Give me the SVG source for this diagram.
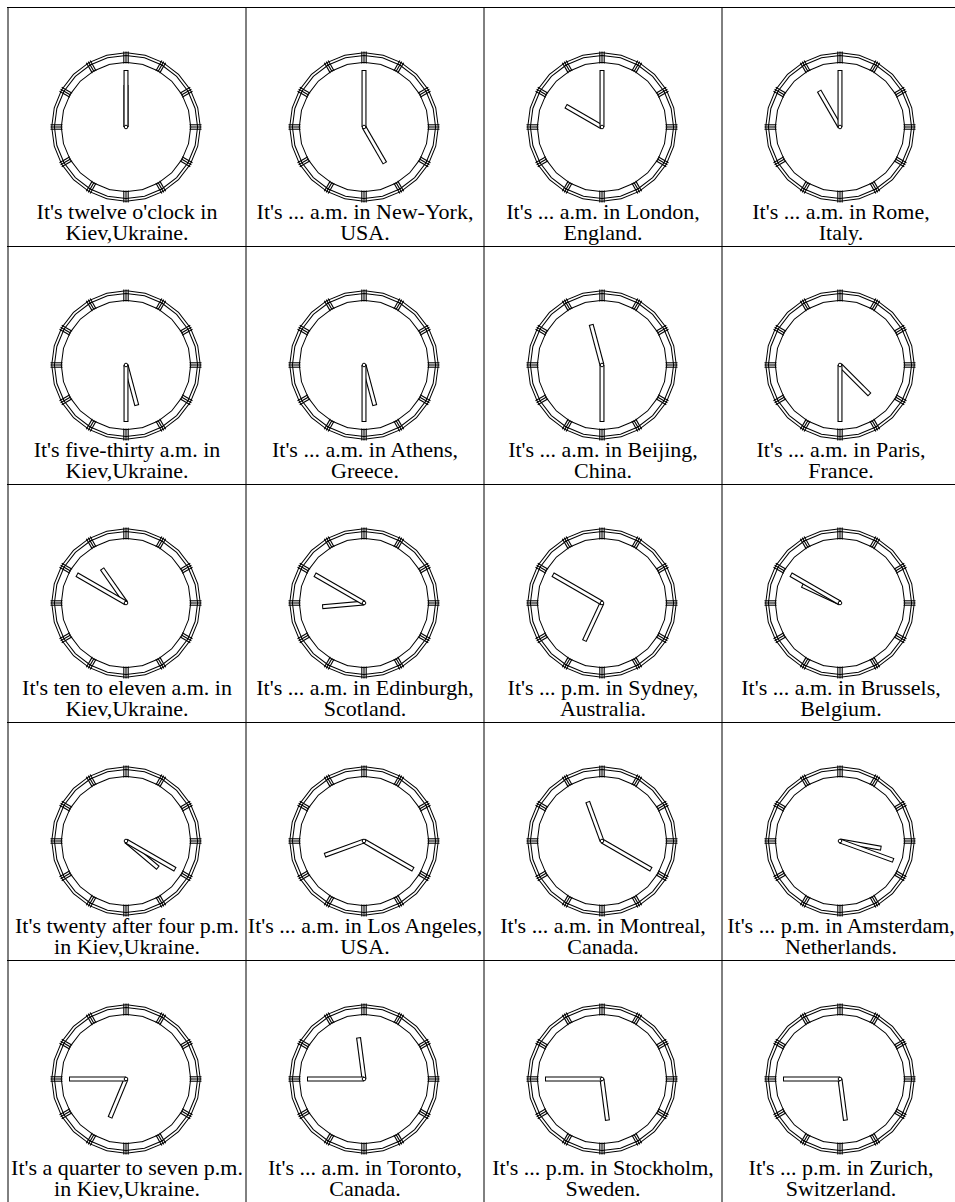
<svg xmlns="http://www.w3.org/2000/svg" xmlns:xlink="http://www.w3.org/1999/xlink" width="955" height="1202" viewBox="0 0 955 1202">
<style>
.grid line{stroke:#000;stroke-width:1}
.bb{fill:none;stroke:#000;stroke-width:10.5;stroke-linejoin:miter}
.bw{fill:none;stroke:#fff;stroke-width:8.5;stroke-linejoin:miter}
.bm{fill:none;stroke:#000;stroke-width:1}
.tk line{stroke:#000;stroke-width:1.1}
.hb{stroke:#000;stroke-width:5}
.hw{stroke:#fff;stroke-width:2.8}
.pv{fill:#fff;stroke:#000;stroke-width:1}
.lb{font-family:'Liberation Serif','Times New Roman',Tinos,serif;font-size:22px;text-anchor:middle;fill:#000}
</style>
<defs>
<polygon id="ring" points="0,-69.5 17.99,-67.13 34.75,-60.19 49.14,-49.14 60.19,-34.75 67.13,-17.99 69.5,0 67.13,17.99 60.19,34.75 49.14,49.14 34.75,60.19 17.99,67.13 0,69.5 -17.99,67.13 -34.75,60.19 -49.14,49.14 -60.19,34.75 -67.13,17.99 -69.5,0 -67.13,-17.99 -60.19,-34.75 -49.14,-49.14 -34.75,-60.19 -17.99,-67.13"/>
<g id="tick" class="tk"><line x1="-2.2" y1="-75.5" x2="-2.2" y2="-63.5"/><line x1="0" y1="-75.5" x2="0" y2="-63.5"/><line x1="2.2" y1="-75.5" x2="2.2" y2="-63.5"/></g>
<g id="face">
<use xlink:href="#ring" class="bb"/>
<use xlink:href="#ring" class="bw"/>
<use xlink:href="#ring" class="bm" transform="scale(1.03)"/>
<use xlink:href="#tick"/>
<use xlink:href="#tick" transform="rotate(30)"/>
<use xlink:href="#tick" transform="rotate(60)"/>
<use xlink:href="#tick" transform="rotate(90)"/>
<use xlink:href="#tick" transform="rotate(120)"/>
<use xlink:href="#tick" transform="rotate(150)"/>
<use xlink:href="#tick" transform="rotate(180)"/>
<use xlink:href="#tick" transform="rotate(210)"/>
<use xlink:href="#tick" transform="rotate(240)"/>
<use xlink:href="#tick" transform="rotate(270)"/>
<use xlink:href="#tick" transform="rotate(300)"/>
<use xlink:href="#tick" transform="rotate(330)"/>
</g>
<g id="hh"><line class="hb" x1="0" y1="0" x2="0" y2="-42"/><line class="hw" x1="0" y1="-1" x2="0" y2="-41"/></g>
<g id="mh"><line class="hb" x1="0" y1="0" x2="0" y2="-57"/><line class="hw" x1="0" y1="-1" x2="0" y2="-56"/></g>
</defs>

<g id="connectors" class="grid">
<line x1="7" y1="7.5" x2="955" y2="7.5"/>
<line x1="7" y1="246.5" x2="955" y2="246.5"/>
<line x1="7" y1="484.5" x2="955" y2="484.5"/>
<line x1="7" y1="722.5" x2="955" y2="722.5"/>
<line x1="7" y1="960.5" x2="955" y2="960.5"/>
<line x1="8" y1="7" x2="8" y2="1202"/>
<line x1="246" y1="7" x2="246" y2="1202"/>
<line x1="484" y1="7" x2="484" y2="1202"/>
<line x1="722" y1="7" x2="722" y2="1202"/>
</g>

<g font-family="'Liberation Serif', 'Times New Roman', serif">
<g id="c1"><use xlink:href="#face" transform="translate(126,127)"/><use xlink:href="#hh" transform="translate(126,127) rotate(0)"/><use xlink:href="#mh" transform="translate(126,127) rotate(0)"/><circle class="pv" cx="126" cy="127" r="1.8"/><text class="lb" x="127" y="219">It's twelve o'clock in</text><text class="lb" x="127" y="239.5">Kiev,Ukraine.</text></g>
<g id="c2"><use xlink:href="#face" transform="translate(364,127)"/><use xlink:href="#hh" transform="translate(364,127) rotate(150)"/><use xlink:href="#mh" transform="translate(364,127) rotate(0)"/><circle class="pv" cx="364" cy="127" r="1.8"/><text class="lb" x="365" y="219">It's ... a.m. in New-York,</text><text class="lb" x="365" y="239.5">USA.</text></g>
<g id="c3"><use xlink:href="#face" transform="translate(602,127)"/><use xlink:href="#hh" transform="translate(602,127) rotate(300)"/><use xlink:href="#mh" transform="translate(602,127) rotate(0)"/><circle class="pv" cx="602" cy="127" r="1.8"/><text class="lb" x="603" y="219">It's ... a.m. in London,</text><text class="lb" x="603" y="239.5">England.</text></g>
<g id="c4"><use xlink:href="#face" transform="translate(840,127)"/><use xlink:href="#hh" transform="translate(840,127) rotate(330)"/><use xlink:href="#mh" transform="translate(840,127) rotate(0)"/><circle class="pv" cx="840" cy="127" r="1.8"/><text class="lb" x="841" y="219">It's ... a.m. in Rome,</text><text class="lb" x="841" y="239.5">Italy.</text></g>

<g id="c5"><use xlink:href="#face" transform="translate(126,365)"/><use xlink:href="#hh" transform="translate(126,365) rotate(165)"/><use xlink:href="#mh" transform="translate(126,365) rotate(180)"/><circle class="pv" cx="126" cy="365" r="1.8"/><text class="lb" x="127" y="457">It's five-thirty a.m. in</text><text class="lb" x="127" y="477.5">Kiev,Ukraine.</text></g>
<g id="c6"><use xlink:href="#face" transform="translate(364,365)"/><use xlink:href="#hh" transform="translate(364,365) rotate(165)"/><use xlink:href="#mh" transform="translate(364,365) rotate(180)"/><circle class="pv" cx="364" cy="365" r="1.8"/><text class="lb" x="365" y="457">It's ... a.m. in Athens,</text><text class="lb" x="365" y="477.5">Greece.</text></g>
<g id="c7"><use xlink:href="#face" transform="translate(602,365)"/><use xlink:href="#hh" transform="translate(602,365) rotate(345)"/><use xlink:href="#mh" transform="translate(602,365) rotate(180)"/><circle class="pv" cx="602" cy="365" r="1.8"/><text class="lb" x="603" y="457">It's ... a.m. in Beijing,</text><text class="lb" x="603" y="477.5">China.</text></g>
<g id="c8"><use xlink:href="#face" transform="translate(840,365)"/><use xlink:href="#hh" transform="translate(840,365) rotate(135)"/><use xlink:href="#mh" transform="translate(840,365) rotate(180)"/><circle class="pv" cx="840" cy="365" r="1.8"/><text class="lb" x="841" y="457">It's ... a.m. in Paris,</text><text class="lb" x="841" y="477.5">France.</text></g>

<g id="c9"><use xlink:href="#face" transform="translate(126,603)"/><use xlink:href="#hh" transform="translate(126,603) rotate(325)"/><use xlink:href="#mh" transform="translate(126,603) rotate(300)"/><circle class="pv" cx="126" cy="603" r="1.8"/><text class="lb" x="127" y="695">It's ten to eleven a.m. in</text><text class="lb" x="127" y="715.5">Kiev,Ukraine.</text></g>
<g id="c10"><use xlink:href="#face" transform="translate(364,603)"/><use xlink:href="#hh" transform="translate(364,603) rotate(265)"/><use xlink:href="#mh" transform="translate(364,603) rotate(300)"/><circle class="pv" cx="364" cy="603" r="1.8"/><text class="lb" x="365" y="695">It's ... a.m. in Edinburgh,</text><text class="lb" x="365" y="715.5">Scotland.</text></g>
<g id="c11"><use xlink:href="#face" transform="translate(602,603)"/><use xlink:href="#hh" transform="translate(602,603) rotate(205)"/><use xlink:href="#mh" transform="translate(602,603) rotate(300)"/><circle class="pv" cx="602" cy="603" r="1.8"/><text class="lb" x="603" y="695">It's ... p.m. in Sydney,</text><text class="lb" x="603" y="715.5">Australia.</text></g>
<g id="c12"><use xlink:href="#face" transform="translate(840,603)"/><use xlink:href="#hh" transform="translate(840,603) rotate(295)"/><use xlink:href="#mh" transform="translate(840,603) rotate(300)"/><circle class="pv" cx="840" cy="603" r="1.8"/><text class="lb" x="841" y="695">It's ... a.m. in Brussels,</text><text class="lb" x="841" y="715.5">Belgium.</text></g>

<g id="c13"><use xlink:href="#face" transform="translate(126,841)"/><use xlink:href="#hh" transform="translate(126,841) rotate(130)"/><use xlink:href="#mh" transform="translate(126,841) rotate(120)"/><circle class="pv" cx="126" cy="841" r="1.8"/><text class="lb" x="127" y="933">It's twenty after four p.m.</text><text class="lb" x="127" y="953.5">in Kiev,Ukraine.</text></g>
<g id="c14"><use xlink:href="#face" transform="translate(364,841)"/><use xlink:href="#hh" transform="translate(364,841) rotate(250)"/><use xlink:href="#mh" transform="translate(364,841) rotate(120)"/><circle class="pv" cx="364" cy="841" r="1.8"/><text class="lb" x="365" y="933">It's ... a.m. in Los Angeles,</text><text class="lb" x="365" y="953.5">USA.</text></g>
<g id="c15"><use xlink:href="#face" transform="translate(602,841)"/><use xlink:href="#hh" transform="translate(602,841) rotate(340)"/><use xlink:href="#mh" transform="translate(602,841) rotate(120)"/><circle class="pv" cx="602" cy="841" r="1.8"/><text class="lb" x="603" y="933">It's ... a.m. in Montreal,</text><text class="lb" x="603" y="953.5">Canada.</text></g>
<g id="c16"><use xlink:href="#face" transform="translate(840,841)"/><use xlink:href="#hh" transform="translate(840,841) rotate(100)"/><use xlink:href="#mh" transform="translate(840,841) rotate(110)"/><circle class="pv" cx="840" cy="841" r="1.8"/><text class="lb" x="841" y="933">It's ... p.m. in Amsterdam,</text><text class="lb" x="841" y="953.5">Netherlands.</text></g>

<g id="c17"><use xlink:href="#face" transform="translate(126,1079)"/><use xlink:href="#hh" transform="translate(126,1079) rotate(202.5)"/><use xlink:href="#mh" transform="translate(126,1079) rotate(270)"/><circle class="pv" cx="126" cy="1079" r="1.8"/><text class="lb" x="127" y="1175">It's a quarter to seven p.m.</text><text class="lb" x="127" y="1195.5">in Kiev,Ukraine.</text></g>
<g id="c18"><use xlink:href="#face" transform="translate(364,1079)"/><use xlink:href="#hh" transform="translate(364,1079) rotate(352.5)"/><use xlink:href="#mh" transform="translate(364,1079) rotate(270)"/><circle class="pv" cx="364" cy="1079" r="1.8"/><text class="lb" x="365" y="1175">It's ... a.m. in Toronto,</text><text class="lb" x="365" y="1195.5">Canada.</text></g>
<g id="c19"><use xlink:href="#face" transform="translate(602,1079)"/><use xlink:href="#hh" transform="translate(602,1079) rotate(172.5)"/><use xlink:href="#mh" transform="translate(602,1079) rotate(270)"/><circle class="pv" cx="602" cy="1079" r="1.8"/><text class="lb" x="603" y="1175">It's ... p.m. in Stockholm,</text><text class="lb" x="603" y="1195.5">Sweden.</text></g>
<g id="c20"><use xlink:href="#face" transform="translate(840,1079)"/><use xlink:href="#hh" transform="translate(840,1079) rotate(172.5)"/><use xlink:href="#mh" transform="translate(840,1079) rotate(270)"/><circle class="pv" cx="840" cy="1079" r="1.8"/><text class="lb" x="841" y="1175">It's ... p.m. in Zurich,</text><text class="lb" x="841" y="1195.5">Switzerland.</text></g>
</g>
</svg>
